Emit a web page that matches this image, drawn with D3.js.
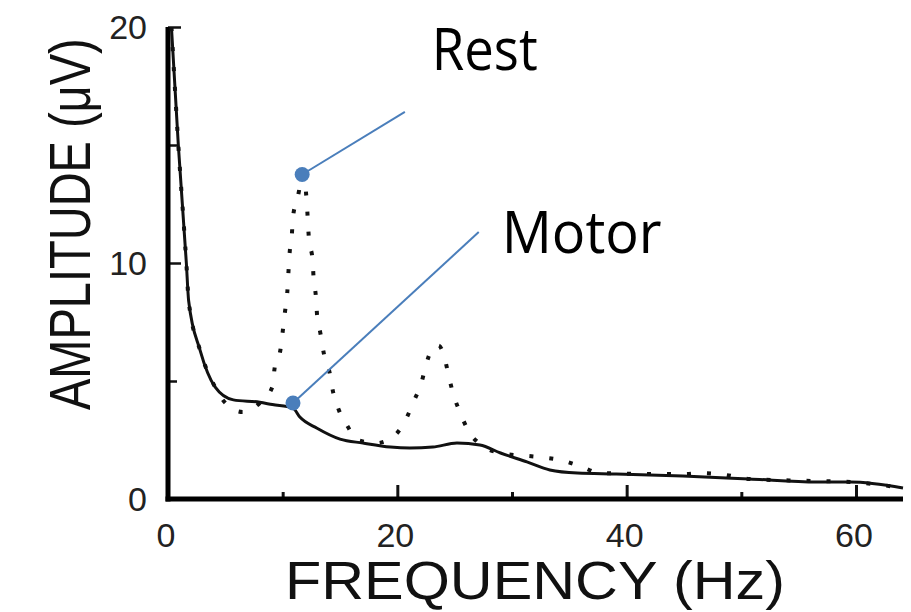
<!DOCTYPE html>
<html>
<head>
<meta charset="utf-8">
<script src="https://cdnjs.cloudflare.com/ajax/libs/d3/7.8.5/d3.min.js"></script>
<style>
  body { margin: 0; background: #fff; }
  svg { display: block; }
</style>
</head>
<body>
<svg id="chart" width="911" height="612"></svg>
<script>
// frequency (Hz) / amplitude (uV)
var motorHz  = [0.3, 0.9, 1.6, 1.8, 2.8, 4.1, 5.7, 8.0, 9.1, 10.9, 11.5, 13.0, 15.0, 17.0, 19.4, 21.1, 23.1, 25.2, 27.2, 29.0, 31.3, 33.3, 35.7, 39.1, 44.9, 50.7, 56.6, 59.5, 64.1];
var motorAmp = [20, 15.0, 10.0, 8.4, 6.3, 4.75, 4.2, 4.1, 4.0, 3.85, 3.47, 3.0, 2.54, 2.37, 2.2, 2.16, 2.2, 2.37, 2.29, 1.95, 1.57, 1.23, 1.10, 1.06, 0.97, 0.85, 0.72, 0.72, 0.47];

var restHz  = [0.3, 0.9, 1.6, 1.8, 2.8, 4.1, 5.0, 6.5, 8.0, 9.1, 9.3, 9.8, 10.0, 10.2, 10.4, 10.5, 10.6, 10.8, 10.9, 11.3, 11.8, 12.1, 12.3, 12.6, 12.7, 12.9, 13.0, 13.3, 13.6, 14.1, 14.4, 14.9, 15.7, 16.5, 18.2, 19.8, 20.8, 21.4, 22.1, 22.5, 23.1, 23.6, 24.1, 24.5, 24.9, 25.5, 26.2, 27.2, 29.0, 32.3, 34.2, 35.9, 37.7, 42.9, 44.9, 46.6, 48.6, 50.7, 56.6, 59.5, 64.1];
var restAmp = [20, 15.0, 10.0, 8.4, 6.3, 4.75, 4.07, 3.69, 4.07, 4.75, 5.55, 6.31, 7.08, 7.92, 8.73, 9.58, 10.38, 11.19, 11.95, 12.75, 13.8, 12.58, 10.97, 10.17, 9.36, 8.56, 7.8, 7.0, 6.14, 5.34, 4.53, 3.77, 3.05, 2.5, 2.37, 2.71, 3.43, 4.11, 4.92, 5.68, 6.4, 6.5, 6.02, 5.17, 4.41, 3.64, 2.88, 2.33, 1.95, 1.78, 1.65, 1.40, 1.10, 1.06, 1.06, 1.10, 1.02, 0.85, 0.76, 0.72, 0.47];

var xTicks = [0, 20, 40, 60];
var yTicks = [0, 10, 20];

// callouts: marker on the curve, end of the leader line, label anchor (all in Hz / uV)
var callouts = [
  { label: "Rest",  hz: 11.7, amp: 13.75, lineHz: 20.66, lineAmp: 16.4,  textHz: 23.0, textAmp: 18.18, width: 106 },
  { label: "Motor", hz: 10.9, amp: 4.07,  lineHz: 27.1,  lineAmp: 11.31, textHz: 29.1, textAmp: 10.42, width: 160 }
];

var svg = d3.select("#chart");

var x = d3.scaleLinear().domain([0, 64.1]).range([168, 903]);
var y = d3.scaleLinear().domain([0, 20]).range([499, 27]);

var line = d3.line()
  .x(function(d) { return x(d[0]); })
  .y(function(d) { return y(d[1]); })
  .curve(d3.curveMonotoneX);

var motor = motorHz.map(function(h, i) { return [h, motorAmp[i]]; });
var rest = restHz.map(function(h, i) { return [h, restAmp[i]]; });

// axes, ticks inside the plot
var xAxis = d3.axisTop(x).tickValues(d3.range(10, 61, 10))
  .tickSize(0).tickFormat("");
var gx = svg.append("g").attr("transform", "translate(0," + y(0) + ")");
gx.call(xAxis);
gx.select(".domain").remove();
gx.selectAll(".tick line")
  .attr("y2", function(d) { return d % 20 === 0 ? -14 : -7; })
  .attr("stroke", "#111").attr("stroke-width", 3);

var gy = svg.append("g").attr("transform", "translate(" + x(0) + ",0)");
gy.call(d3.axisRight(y).tickValues([5, 10, 15, 20]).tickSize(0).tickFormat(""));
gy.select(".domain").remove();
gy.selectAll(".tick line")
  .attr("x2", function(d) { return d % 10 === 0 ? 13 : 9; })
  .attr("stroke", "#111").attr("stroke-width", 2.5);

svg.append("line")
  .attr("x1", x(0)).attr("x2", x(0))
  .attr("y1", y(20)).attr("y2", y(0) + 2.5)
  .attr("stroke", "#000").attr("stroke-width", 5);
svg.append("line")
  .attr("x1", x(0) - 2.5).attr("x2", x(64.1))
  .attr("y1", y(0)).attr("y2", y(0))
  .attr("stroke", "#000").attr("stroke-width", 5);

// tick labels
svg.selectAll(".xlab").data(xTicks).enter().append("text")
  .attr("x", function(d) { return x(d) - 2; })
  .attr("y", y(0) + 48)
  .attr("text-anchor", "middle")
  .attr("font-family", "Liberation Sans, Arial, sans-serif")
  .attr("font-size", 34)
  .attr("fill", "#222")
  .text(function(d) { return d; });

svg.selectAll(".ylab").data(yTicks).enter().append("text")
  .attr("x", 147)
  .attr("y", function(d) { return y(d); })
  .attr("dy", "0.36em")
  .attr("text-anchor", "end")
  .attr("font-family", "Liberation Sans, Arial, sans-serif")
  .attr("font-size", 34)
  .attr("fill", "#222")
  .text(function(d) { return d; });

// axis titles (the source image is stretched sideways, so scale the glyphs)
svg.append("text")
  .attr("transform", "translate(285,599) scale(1.12,1)")
  .attr("font-family", "Liberation Sans, Arial, sans-serif")
  .attr("font-size", 53)
  .attr("fill", "#111")
  .text("FREQUENCY (Hz)");

svg.append("text")
  .attr("transform", "translate(90,410) rotate(-90) scale(1,1.21)")
  .attr("font-family", "Liberation Sans, Arial, sans-serif")
  .attr("font-size", 47)
  .attr("fill", "#111")
  .text("AMPLITUDE (\u03bcV)");

// curves
svg.append("path")
  .datum(rest)
  .attr("d", line)
  .attr("fill", "none")
  .attr("stroke", "#111")
  .attr("stroke-width", 4)
  .attr("stroke-dasharray", "4 16");

svg.append("path")
  .datum(motor)
  .attr("d", line)
  .attr("fill", "none")
  .attr("stroke", "#111")
  .attr("stroke-width", 3);

// callouts
var blue = "#4a7ebb";
callouts.forEach(function(c) {
  svg.append("line")
    .attr("x1", x(c.hz)).attr("y1", y(c.amp))
    .attr("x2", x(c.lineHz)).attr("y2", y(c.lineAmp))
    .attr("stroke", blue).attr("stroke-width", 2);
  svg.append("circle")
    .attr("cx", x(c.hz)).attr("cy", y(c.amp))
    .attr("r", 7.5)
    .attr("fill", blue);
  svg.append("text")
    .attr("x", x(c.textHz)).attr("y", y(c.textAmp))
    .attr("font-family", "Open Sans, Noto Sans, sans-serif")
    .attr("font-size", 58)
    .attr("textLength", c.width)
    .attr("lengthAdjust", "spacingAndGlyphs")
    .attr("fill", "#000")
    .text(c.label);
});
</script>
</body>
</html>
